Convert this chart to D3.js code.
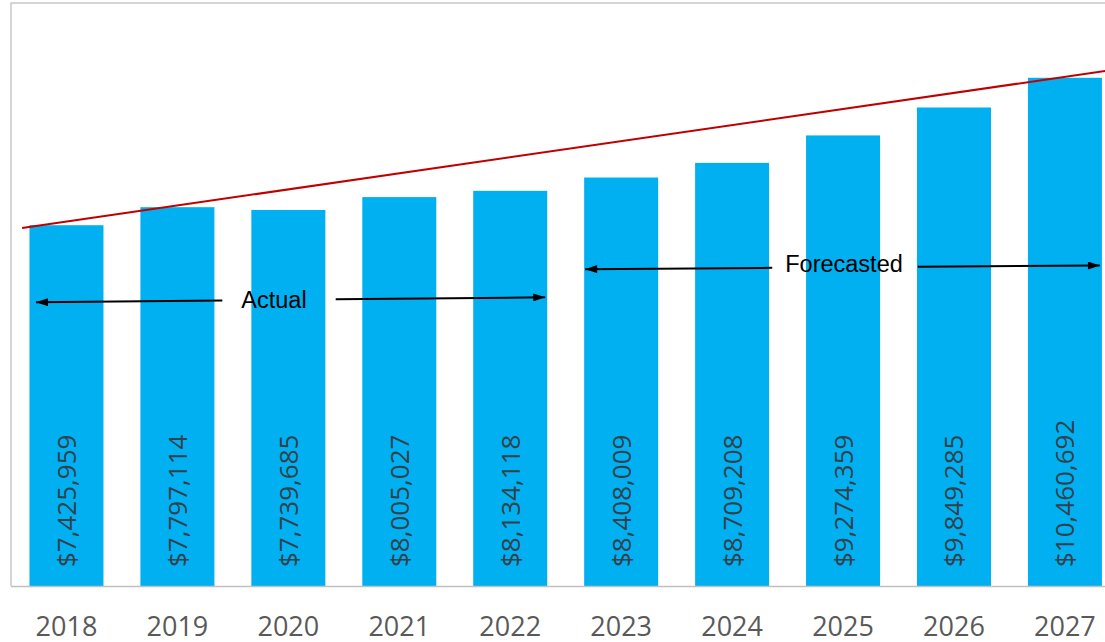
<!DOCTYPE html>
<html lang="en">
<head>
<meta charset="utf-8">
<script src="https://d3js.org/d3.v7.min.js"></script>
<title>Actual and forecasted values 2018-2027</title>
<style>
  body { margin: 0; background: #fff; }
  .frame { fill: none; stroke: #c8c8c8; stroke-width: 1.5px; }
  .bar { fill: #00b0f0; }
  .val { font-family: "Open Sans", sans-serif; font-size: 26px; fill: #33414d; }
  .year { font-family: "Open Sans", sans-serif; font-size: 27px; fill: #595959; text-anchor: middle; }
  .note { font-family: "Liberation Sans", Arial, sans-serif; font-size: 23.5px; fill: #000; text-anchor: middle; }
  .arrow { stroke: #000; stroke-width: 2px; fill: none; }
  .trend { stroke: #c00000; stroke-width: 2px; fill: none; }
</style>
</head>
<body>
<svg id="chart" width="1105" height="642"></svg>
<script>
// data
var years = ["2018", "2019", "2020", "2021", "2022", "2023", "2024", "2025", "2026", "2027"];
var values = [7425959, 7797114, 7739685, 8005027, 8134118, 8408009, 8709208, 9274359, 9849285, 10460692];

// red trend line, two end points (year, value)
var trendYears = [2017.6, 2027.5];
var trendValues = [7369000, 10646000];

// arrow annotations
var noteLabels = ["Actual", "Forecasted"];
var noteFrom = ["2018", "2023"];
var noteTo = ["2022", "2027"];

var svg = d3.select("#chart");

var plot = {left: 11, top: 3, bottom: 586, right: 1120.4};

var x = d3.scaleBand()
    .domain(years)
    .range([plot.left, plot.right])
    .paddingInner(0.333)
    .paddingOuter(0.1665);

var y = d3.scaleLinear()
    .domain([0, 12000000])
    .range([plot.bottom, plot.top]);

// linear year scale through the band centres, for the trend line
var xc = d3.scaleLinear()
    .domain([2018, 2027])
    .range([x("2018") + x.bandwidth() / 2, x("2027") + x.bandwidth() / 2]);

var fmt = d3.format("$,");

// plot frame (top + left), bottom axis line drawn below
svg.append("path")
    .attr("class", "frame")
    .attr("d", "M" + plot.left + "," + plot.bottom + "V" + plot.top + "H" + plot.right);

svg.selectAll(".bar")
    .data(values)
  .enter().append("rect")
    .attr("class", "bar")
    .attr("x", function(d, i) { return x(years[i]); })
    .attr("y", function(d) { return y(d); })
    .attr("width", x.bandwidth())
    .attr("height", function(d) { return y(0) - y(d); });

svg.selectAll(".val")
    .data(values)
  .enter().append("text")
    .attr("class", "val")
    .attr("transform", function(d, i) {
      return "translate(" + (x(years[i]) + x.bandwidth() / 2 + 9.5) + "," + (plot.bottom - 19) + ") rotate(-90)";
    })
    .text(function(d) { return fmt(d); });

// x axis: line only, labels below
var xAxis = svg.append("g")
    .attr("transform", "translate(0," + (plot.bottom + 0.5) + ")")
    .attr("font-size", null)
    .attr("font-family", null)
    .call(d3.axisBottom(x).tickSize(0).tickPadding(0));
xAxis.attr("font-size", null).attr("font-family", null);
xAxis.select(".domain")
    .attr("d", "M" + plot.left + ",0H" + plot.right)
    .attr("stroke", "#c0c0c0")
    .attr("stroke-width", 1.5);
xAxis.selectAll(".tick text")
    .attr("class", "year")
    .attr("y", 49.5)
    .attr("dy", 0)
    .attr("fill", null);

// trend line
svg.append("path")
    .attr("class", "trend")
    .attr("d", d3.line()
      .x(function(d, i) { return xc(trendYears[i]); })
      .y(function(d) { return y(d); })(trendValues));

// arrow heads
var defs = svg.append("defs");
defs.append("marker")
    .attr("id", "head")
    .attr("viewBox", "0 0 12 8")
    .attr("refX", 12)
    .attr("refY", 4)
    .attr("markerUnits", "userSpaceOnUse")
    .attr("markerWidth", 13)
    .attr("markerHeight", 8)
    .attr("orient", "auto")
  .append("path")
    .attr("d", "M0,0L12,4L0,8Z")
    .attr("fill", "#000");

// layout of the two annotations (pixels)
var noteLayout = [
  {tipL: 6.5, tipR: -2, yL: 302.3, yR: 297.3, cx: 274, gapL: 19, gapR: 29, base: 307.5},
  {tipL: 1, tipR: -2, yL: 269.2, yR: 265.5, cx: 844, gapL: 13, gapR: 15, base: 272}
];

noteLabels.forEach(function(lab, i) {
  var L = noteLayout[i];
  var x0 = x(noteFrom[i]) + L.tipL;
  var x1 = x(noteTo[i]) + x.bandwidth() + L.tipR;
  var t = svg.append("text")
      .attr("class", "note")
      .attr("x", L.cx)
      .attr("y", L.base)
      .text(lab);
  var w = t.node().getComputedTextLength();
  var a = L.cx - w / 2 - L.gapL, b = L.cx + w / 2 + L.gapR;
  var yAt = function(xx) { return L.yL + (L.yR - L.yL) * (xx - x0) / (x1 - x0); };
  svg.append("line").attr("class", "arrow")
      .attr("x1", a).attr("y1", yAt(a))
      .attr("x2", x0).attr("y2", L.yL)
      .attr("marker-end", "url(#head)");
  svg.append("line").attr("class", "arrow")
      .attr("x1", b).attr("y1", yAt(b))
      .attr("x2", x1).attr("y2", L.yR)
      .attr("marker-end", "url(#head)");
});
</script>
</body>
</html>
